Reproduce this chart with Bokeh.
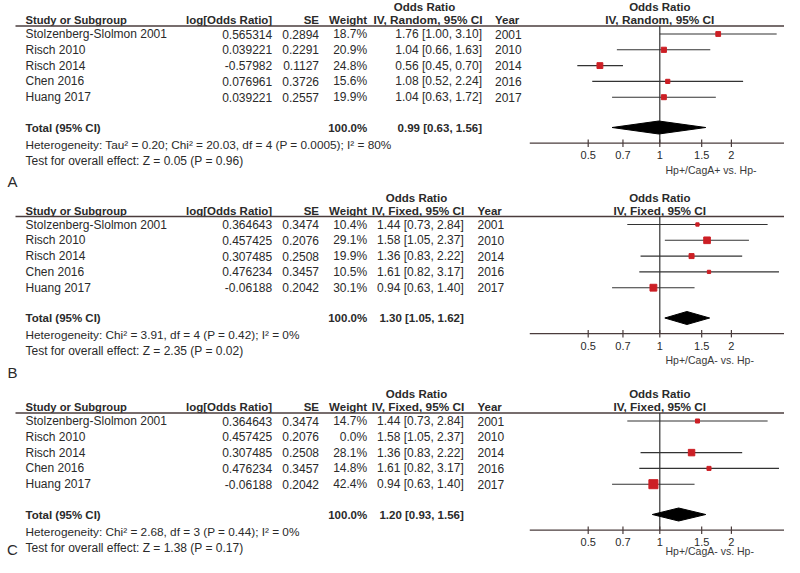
import math
from bokeh.plotting import figure
from bokeh.models import Range1d, LogScale
from bokeh.core.properties import value
from bokeh.embed import file_html
from bokeh.resources import INLINE

# ---------------- data ----------------
studies = ["Stolzenberg-Slolmon 2001", "Risch 2010", "Risch 2014", "Chen 2016", "Huang 2017"]
years = ["2001", "2010", "2014", "2016", "2017"]

log_or_A = [0.565314, 0.039221, -0.57982, 0.076961, 0.039221]
se_A = [0.2894, 0.2291, 0.1127, 0.3726, 0.2557]
weight_A = [18.7, 20.9, 24.8, 15.6, 19.9]
or_A = [1.76, 1.04, 0.56, 1.08, 1.04]
lo_A = [1.00, 0.66, 0.45, 0.52, 0.63]
hi_A = [3.10, 1.63, 0.70, 2.24, 1.72]
total_A = [0.99, 0.63, 1.56]

log_or_B = [0.364643, 0.457425, 0.307485, 0.476234, -0.06188]
se_B = [0.3474, 0.2076, 0.2508, 0.3457, 0.2042]
weight_B = [10.4, 29.1, 19.9, 10.5, 30.1]
or_B = [1.44, 1.58, 1.36, 1.61, 0.94]
lo_B = [0.73, 1.05, 0.83, 0.82, 0.63]
hi_B = [2.84, 2.37, 2.22, 3.17, 1.40]
total_B = [1.30, 1.05, 1.62]

log_or_C = [0.364643, 0.457425, 0.307485, 0.476234, -0.06188]
se_C = [0.3474, 0.2076, 0.2508, 0.3457, 0.2042]
weight_C = [14.7, 0.0, 28.1, 14.8, 42.4]
or_C = [1.44, 1.58, 1.36, 1.61, 0.94]
lo_C = [0.73, 1.05, 0.83, 0.82, 0.63]
hi_C = [2.84, 2.37, 2.22, 3.17, 1.40]
total_C = [1.20, 0.93, 1.56]

het_A = "Heterogeneity: Tau\u00b2 = 0.20; Chi\u00b2 = 20.03, df = 4 (P = 0.0005); I\u00b2 = 80%"
test_A = "Test for overall effect: Z = 0.05 (P = 0.96)"
het_B = "Heterogeneity: Chi\u00b2 = 3.91, df = 4 (P = 0.42); I\u00b2 = 0%"
test_B = "Test for overall effect: Z = 2.35 (P = 0.02)"
het_C = "Heterogeneity: Chi\u00b2 = 2.68, df = 3 (P = 0.44); I\u00b2 = 0%"
test_C = "Test for overall effect: Z = 1.38 (P = 0.17)"

tick_values = [0.5, 0.7, 1, 1.5, 2]
tick_labels = ["0.5", "0.7", "1", "1.5", "2"]

# ---------------- layout / style ----------------
FONT = "Liberation Sans"
TEXT = "#2a2a2a"
RED = "#cc1f25"
LINE = "#333333"
HLINE = "#4a3c3c"

PX_ONE = 659.3      # screen x of OR = 1
PX_PER_LN = 103.3   # pixels per natural-log unit
AX_LO, AX_HI = 0.284, 3.52

W, H = 784, 557
or_lo = math.exp((0 - PX_ONE) / PX_PER_LN)
or_hi = math.exp((W - PX_ONE) / PX_PER_LN)

p = figure(width=W, height=H, output_backend="svg", toolbar_location=None,
           x_range=Range1d(0, W), y_range=Range1d(H, 0),
           x_axis_location=None, y_axis_location=None, min_border=0)
p.extra_x_ranges = {"or": Range1d(or_lo, or_hi)}
p.extra_x_scales = {"or": LogScale()}
p.grid.visible = False
p.outline_line_color = None
p.background_fill_color = "white"
p.border_fill_color = "white"


def txt(xs, ys, texts, align="left", bold=False, size="12px", color=TEXT, rng=None):
    kw = {}
    if rng:
        kw["x_range_name"] = rng
    p.text(x=list(xs), y=list(ys), text=list(texts), text_align=align,
           text_baseline="middle", text_font=value(FONT), text_font_size=size,
           text_font_style="bold" if bold else "normal", text_color=color, **kw)


panels = [
    dict(letter="A", method="IV, Random, 95% CI", logor=log_or_A, se=se_A, w=weight_A,
         est=or_A, lo=lo_A, hi=hi_A, total=total_A, het=het_A, test=test_A,
         xlabel="Hp+/CagA+ vs. Hp-", dy=0.0, letter_y=181.0, xlabel_y=169.3,
         eff_right=481.5, year_left=494.5, top_c=424.0),
    dict(letter="B", method="IV, Fixed, 95% CI", logor=log_or_B, se=se_B, w=weight_B,
         est=or_B, lo=lo_B, hi=hi_B, total=total_B, het=het_B, test=test_B,
         xlabel="Hp+/CagA- vs. Hp-", dy=190.5, letter_y=372.0, xlabel_y=359.8,
         eff_right=463.3, year_left=477.0, top_c=416.0),
    dict(letter="C", method="IV, Fixed, 95% CI", logor=log_or_C, se=se_C, w=weight_C,
         est=or_C, lo=lo_C, hi=hi_C, total=total_C, het=het_C, test=test_C,
         xlabel="Hp+/CagA- vs. Hp-", dy=387.0, letter_y=549.0, xlabel_y=550.0,
         eff_right=463.3, year_left=477.0, top_c=416.0),
]

row_off = [33.5, 49.3, 65.1, 80.9, 96.7]

for pn in panels:
    dy = pn["dy"]
    ys = [dy + r for r in row_off]
    top_y = dy + 6.5
    hdr_y = dy + 19.5
    line_y = dy + 25.5
    tot_y = dy + 127.0
    axis_y = dy + 142.7

    # headers
    txt([pn["top_c"]], [top_y], ["Odds Ratio"], align="center", bold=True, size="11.5px")
    txt([PX_ONE], [top_y], ["Odds Ratio"], align="center", bold=True, size="11.5px")
    txt([25], [hdr_y], ["Study or Subgroup"], bold=True, size="11.2px")
    txt([271.7], [hdr_y], ["log[Odds Ratio]"], align="right", bold=True, size="11.5px")
    txt([318.5], [hdr_y], ["SE"], align="right", bold=True, size="11.5px")
    txt([366.7], [hdr_y], ["Weight"], align="right", bold=True, size="11.5px")
    txt([pn["eff_right"] + 0.5], [hdr_y], [pn["method"]], align="right", bold=True, size="11.8px")
    txt([pn["year_left"]], [hdr_y], ["Year"], bold=True, size="11.5px")
    txt([PX_ONE], [hdr_y], [pn["method"]], align="center", bold=True, size="11.8px")
    p.segment(x0=[15], y0=[line_y], x1=[800], y1=[line_y], line_color=HLINE, line_width=1.5)

    # study rows
    txt([25] * 5, ys, studies)
    txt([271.7] * 5, ys, [str(v) for v in pn["logor"]], align="right")
    txt([318.5] * 5, ys, [f"{v:.4f}" for v in pn["se"]], align="right")
    txt([366.7] * 5, ys, [f"{v:.1f}%" for v in pn["w"]], align="right")
    txt([pn["eff_right"]] * 5, ys,
        [f"{e:.2f} [{l:.2f}, {h:.2f}]" for e, l, h in zip(pn["est"], pn["lo"], pn["hi"])],
        align="right")
    txt([pn["year_left"]] * 5, ys, years)

    # total
    t_est, t_lo, t_hi = pn["total"]
    txt([25], [tot_y], ["Total (95% CI)"], bold=True, size="11.5px")
    txt([366.7], [tot_y], ["100.0%"], align="right", bold=True, size="11.5px")
    txt([pn["eff_right"]], [tot_y], [f"{t_est:.2f} [{t_lo:.2f}, {t_hi:.2f}]"],
        align="right", bold=True, size="11.5px")
    txt([25], [dy + 144.0], [pn["het"]], size="11.8px")
    txt([25], [dy + 160.0], [pn["test"]])
    txt([12], [pn["letter_y"]], [pn["letter"]], align="center", size="15px")

    # forest: null line
    p.segment(x0=[1], y0=[line_y], x1=[1], y1=[axis_y], x_range_name="or",
              line_color=LINE, line_width=1.2)
    # CIs and squares (studies with weight)
    idx = [i for i, w in enumerate(pn["w"]) if w > 0]
    p.segment(x0=[pn["lo"][i] for i in idx], y0=[ys[i] for i in idx],
              x1=[pn["hi"][i] for i in idx], y1=[ys[i] for i in idx],
              x_range_name="or", line_color=LINE, line_width=1.1)
    p.scatter(x=[pn["est"][i] for i in idx], y=[ys[i] for i in idx],
              size=[1.4 + 0.18 * pn["w"][i] for i in idx], marker="square",
              x_range_name="or", fill_color=RED, line_color=RED)
    # diamond
    p.patches(xs=[[t_lo, t_est, t_hi, t_est]],
              ys=[[tot_y, tot_y - 6.5, tot_y, tot_y + 6.5]],
              x_range_name="or", fill_color="black", line_color="black")
    # axis
    p.segment(x0=[AX_LO], y0=[axis_y], x1=[AX_HI], y1=[axis_y], x_range_name="or",
              line_color=HLINE, line_width=1.3)
    p.segment(x0=tick_values, y0=[axis_y - 3.7] * len(tick_values),
              x1=tick_values, y1=[axis_y + 3.7] * len(tick_values),
              x_range_name="or", line_color=HLINE, line_width=1.2)
    txt(tick_values, [dy + 154.5] * len(tick_values), tick_labels, align="center",
        size="11px", rng="or")
    txt([665], [pn["xlabel_y"]], [pn["xlabel"]], size="10.5px", color="#3a3a3a")

open("out.html", "w").write(file_html(p, INLINE))
